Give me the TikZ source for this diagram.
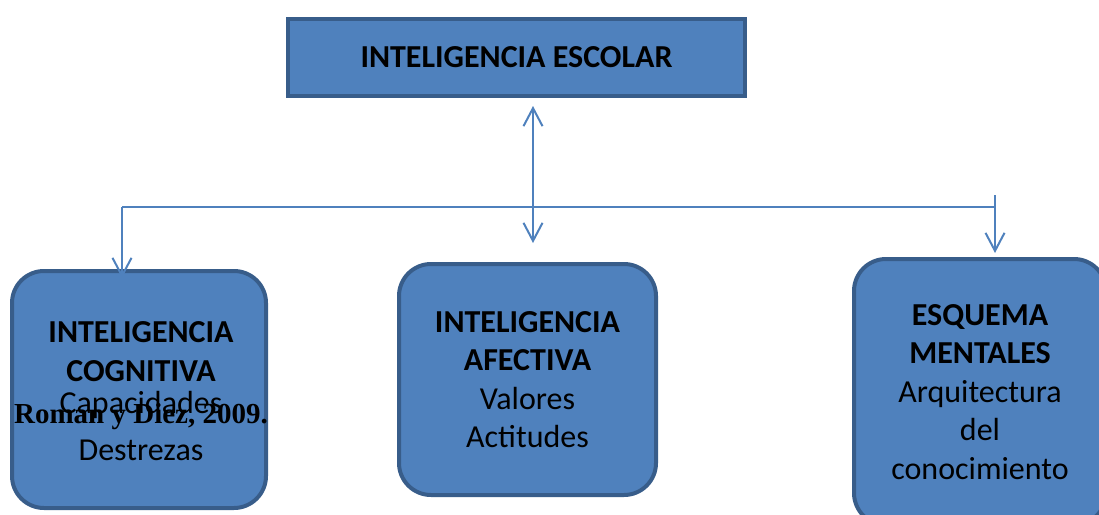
\documentclass[tikz,border=0pt]{standalone}
\usepackage{fontspec}
\setmainfont{Carlito}
\newfontfamily\tnrfont{Liberation Serif}
\usetikzlibrary{arrows.meta}
\definecolor{boxfill}{RGB}{79,129,189}
\definecolor{boxedge}{RGB}{56,93,138}
\definecolor{conncol}{RGB}{79,129,189}
\tikzset{
  topbox/.style={draw=boxedge, fill=boxfill, line width=4pt, rectangle, inner sep=0pt,
    font=\fontsize{32}{38.5}\selectfont\bfseries},
  roundbox/.style={draw=boxedge, fill=boxfill, line width=4pt, rectangle, rounded corners=32pt,
    inner sep=0pt, align=center, font=\fontsize{32}{38.5}\selectfont},
  conn/.style={draw=conncol, line width=2pt},
  tip/.style={-{Straight Barb[length=18pt,width=19pt,line width=2pt]}},
  dtip/.style={{Straight Barb[length=18pt,width=19pt,line width=2pt]}-{Straight Barb[length=18pt,width=19pt,line width=2pt]}},
  cite/.style={font=\fontsize{29}{34}\selectfont\tnrfont\bfseries, inner sep=0pt}
}
\begin{document}
\begin{tikzpicture}[x=1pt,y=-1pt]
\useasboundingbox (0,0) rectangle (1099,514);
\clip (0,0) rectangle (1099,514);
\node[topbox, minimum width=457pt, minimum height=77pt] (top) at (516.5,57.5) {INTELIGENCIA ESCOLAR};
\node[roundbox, minimum width=254pt, minimum height=237pt] (cog) at (139,389.5) {};
\node[align=center, inner sep=0pt, font=\fontsize{32}{38.5}\selectfont] (cogtext) at (141,391)
  {\textbf{INTELIGENCIA}\\\textbf{COGNITIVA}\\[-6pt]Capacidades\\[8pt]Destrezas};
\node[roundbox, minimum width=257pt, minimum height=231pt] (afe) at (527.5,379.5)
  {\textbf{INTELIGENCIA}\\\textbf{AFECTIVA}\\Valores\\Actitudes};
\node[roundbox, minimum width=252pt, minimum height=266pt] (esq) at (980,392)
  {\textbf{ESQUEMA}\\\textbf{MENTALES}\\Arquitectura\\del\\conocimiento};
\node[cite, anchor=base] (cite) at (141,423) {Roman y Diez, 2009.};
\coordinate (vt) at (533,106);
\coordinate (vb) at (533,243);
\coordinate (hl) at (122,207);
\coordinate (hr) at (995,207);
\coordinate (la) at (122,278);
\coordinate (rt) at (995,195);
\coordinate (ra) at (995,253);
\draw[conn, dtip] (vt) -- (vb);
\draw[conn] (hl) -- (hr);
\draw[conn, tip] (hl) -- (la);
\draw[conn, tip] (rt) -- (ra);
\end{tikzpicture}
\end{document}
